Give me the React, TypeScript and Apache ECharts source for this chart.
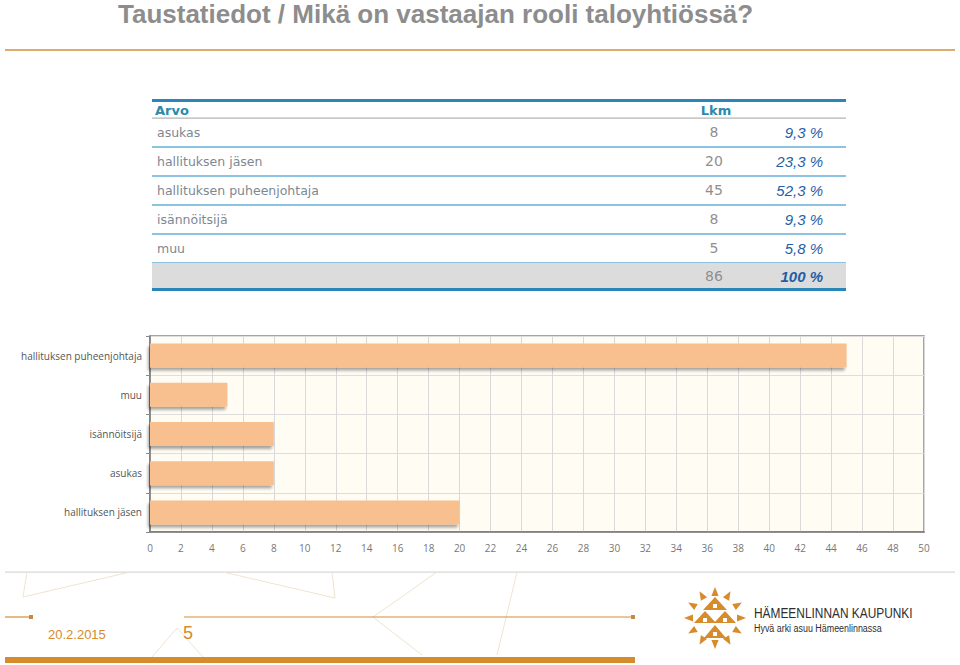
import React, { useEffect, useRef } from "react";
import * as echarts from "echarts";

// Table data (as shown in the table)
const tableCategories = ["asukas", "hallituksen jäsen", "hallituksen puheenjohtaja", "isännöitsijä", "muu"];
const tableCounts = [8, 20, 45, 8, 5];
const tablePercents = ["9,3 %", "23,3 %", "52,3 %", "9,3 %", "5,8 %"];
const totalCount = 86;
const totalPercent = "100 %";

// Bar chart data (top to bottom)
const chartCategories = ["hallituksen puheenjohtaja", "muu", "isännöitsijä", "asukas", "hallituksen jäsen"];
const chartValues = [45, 5, 8, 8, 20];

const titleText = "Taustatiedot / Mikä on vastaajan rooli taloyhtiössä?";
const footerDate = "20.2.2015";
const footerPage = "5";
const logoTitle = "HÄMEENLINNAN KAUPUNKI";
const logoSlogan = "Hyvä arki asuu Hämeenlinnassa";

const ORANGE = "#d68b2c";
const BLUE = "#2a86b8";
const DECO = "#f0e4cf";

function buildGraphic() {
  const els: any[] = [];
  // Title
  els.push({
    type: "text",
    x: 118,
    y: 14,
    style: {
      text: titleText,
      font: 'bold 26px "Liberation Sans Narrow", "Liberation Sans", Arial, sans-serif',
      fill: "#8d8d8d",
      verticalAlign: "middle",
      align: "left",
    },
  });
  // Orange rule under the title
  els.push({ type: "rect", shape: { x: 5, y: 49, width: 950, height: 2 }, style: { fill: "#dcab6e" } });

  // Table
  const tx = 152;
  const tw = 694;
  els.push({ type: "rect", shape: { x: tx, y: 99, width: tw, height: 3 }, style: { fill: BLUE } });
  els.push({
    type: "text", x: 155, y: 110,
    style: { text: "Arvo", font: 'bold 13px "DejaVu Sans", sans-serif', fill: "#2b8aac", verticalAlign: "middle" },
  });
  els.push({
    type: "text", x: 716, y: 110,
    style: { text: "Lkm", font: 'bold 13px "DejaVu Sans", sans-serif', fill: "#2b8aac", verticalAlign: "middle", align: "center" },
  });
  els.push({ type: "rect", shape: { x: tx, y: 117.5, width: tw, height: 1.2 }, style: { fill: "#b4b4b4" } });

  const rowH = 29;
  const firstCenter = 132;
  tableCategories.forEach((cat, i) => {
    const cy = firstCenter + i * rowH;
    els.push({
      type: "text", x: 157, y: cy,
      style: { text: cat, font: '12.5px "DejaVu Sans", sans-serif', fill: "#7d8893", verticalAlign: "middle" },
    });
    els.push({
      type: "text", x: 714, y: cy,
      style: { text: String(tableCounts[i]), font: '14px "DejaVu Sans", sans-serif', fill: "#8f8f8f", verticalAlign: "middle", align: "center" },
    });
    els.push({
      type: "text", x: 823, y: cy,
      style: { text: tablePercents[i], font: 'italic 15px "Liberation Sans", Arial, sans-serif', fill: "#1f5ea8", verticalAlign: "middle", align: "right" },
    });
    els.push({ type: "rect", shape: { x: tx, y: cy + 14, width: tw, height: 2 }, style: { fill: "#8cc3e1" } });
  });
  const totalCy = firstCenter + tableCategories.length * rowH - 1;
  els.push({ type: "rect", shape: { x: tx, y: totalCy - 13, width: tw, height: 25 }, style: { fill: "#dcdcdc" } });
  els.push({
    type: "text", x: 714, y: totalCy,
    style: { text: String(totalCount), font: '14px "DejaVu Sans", sans-serif', fill: "#8f8f8f", verticalAlign: "middle", align: "center" },
  });
  els.push({
    type: "text", x: 823, y: totalCy,
    style: { text: totalPercent, font: 'italic bold 15px "Liberation Sans", Arial, sans-serif', fill: "#1f5ea8", verticalAlign: "middle", align: "right" },
  });
  els.push({ type: "rect", shape: { x: tx, y: totalCy + 12, width: tw, height: 3 }, style: { fill: BLUE } });

  // Footer
  els.push({ type: "rect", shape: { x: 5, y: 571.5, width: 950, height: 1.2 }, style: { fill: "#d8d8d8" } });
  const deco = [
    [[27, 572], [23, 597], [130, 572]],
    [[223, 572], [335, 598], [332, 572]],
    [[437, 572], [373, 617], [422, 655]],
    [[517, 572], [497, 655]],
    [[152, 657], [177, 628], [203, 657]],
  ];
  deco.forEach((pts) => {
    els.push({ type: "polyline", shape: { points: pts }, style: { stroke: DECO, lineWidth: 1, fill: null } });
  });
  els.push({ type: "line", shape: { x1: 5, y1: 617, x2: 31, y2: 617 }, style: { stroke: ORANGE, lineWidth: 1.2 } });
  els.push({ type: "rect", shape: { x: 29, y: 615, width: 4, height: 4 }, style: { fill: "#c48a4a" } });
  els.push({ type: "line", shape: { x1: 184, y1: 617, x2: 633, y2: 617 }, style: { stroke: ORANGE, lineWidth: 1.2 } });
  els.push({ type: "rect", shape: { x: 631, y: 615, width: 4, height: 4 }, style: { fill: "#c48a4a" } });
  els.push({ type: "rect", shape: { x: 5, y: 657, width: 630, height: 6 }, style: { fill: ORANGE } });
  els.push({
    type: "text", x: 48, y: 634,
    style: { text: footerDate, font: '13px "Liberation Sans", Arial, sans-serif', fill: ORANGE, verticalAlign: "middle" },
  });
  els.push({
    type: "text", x: 183, y: 633,
    style: { text: footerPage, font: '18px "Liberation Sans", Arial, sans-serif', fill: ORANGE, verticalAlign: "middle" },
  });

  // Logo: sun of triangles
  const cx = 715;
  const cy = 618;
  for (let k = 0; k < 12; k++) {
    const a = (k * 30 * Math.PI) / 180;
    const ca = Math.cos(a);
    const sa = Math.sin(a);
    const r0 = 22;
    const r1 = 31;
    const hw = 3.6;
    els.push({
      type: "polygon",
      shape: {
        points: [
          [cx + ca * r1, cy + sa * r1],
          [cx + ca * r0 - sa * hw, cy + sa * r0 + ca * hw],
          [cx + ca * r0 + sa * hw, cy + sa * r0 - ca * hw],
        ],
      },
      style: { fill: ORANGE },
    });
  }
  const inner = [
    [[715, 597], [703, 610], [727, 610]],
    [[705, 611], [694, 623], [716, 623]],
    [[725, 611], [714, 623], [736, 623]],
    [[715, 625], [704, 638], [726, 638]],
  ];
  inner.forEach((pts) => els.push({ type: "polygon", shape: { points: pts }, style: { fill: ORANGE } }));
  [[713, 604], [703, 618], [723, 618], [713, 632]].forEach(([x, y]) =>
    els.push({ type: "rect", shape: { x, y, width: 4, height: 4 }, style: { fill: "#ffffff" } })
  );
  els.push({
    type: "text", x: 754, y: 613, scaleX: 0.85,
    style: { text: logoTitle, font: '14px "Liberation Sans Narrow", "Liberation Sans", Arial, sans-serif', fill: "#2e2e2e", verticalAlign: "middle" },
  });
  els.push({
    type: "text", x: 754, y: 628, scaleX: 0.81,
    style: { text: logoSlogan, font: '11px "Liberation Sans Narrow", "Liberation Sans", Arial, sans-serif', fill: "#2e2e2e", verticalAlign: "middle" },
  });
  return els;
}

export default function App() {
  const ref = useRef<HTMLDivElement>(null);
  useEffect(() => {
    document.body.style.margin = "0";
    const chart = echarts.init(ref.current!, null, { renderer: "svg" });
    chart.setOption({
      animation: false,
      backgroundColor: "#ffffff",
      grid: {
        left: 150,
        right: 36,
        top: 336,
        bottom: 133,
        show: true,
        backgroundColor: "#fffcf3",
        borderColor: "#888888",
        borderWidth: 1.5,
      },
      xAxis: {
        type: "value",
        min: 0,
        max: 50,
        interval: 2,
        axisLine: { show: true, lineStyle: { color: "#777777", width: 1.5 } },
        axisTick: { show: false },
        splitLine: { show: true, lineStyle: { color: "#d9d9d9", width: 1 } },
        axisLabel: { color: "#777777", fontSize: 10, fontFamily: '"Open Sans", sans-serif', margin: 11 },
      },
      yAxis: {
        type: "category",
        inverse: true,
        data: chartCategories,
        axisLine: { show: true, lineStyle: { color: "#777777", width: 1.5 } },
        axisTick: { show: true, length: 4, lineStyle: { color: "#888888" } },
        splitLine: { show: true, lineStyle: { color: "#dddddd" } },
        axisLabel: { color: "#555555", fontSize: 10, fontFamily: '"Open Sans", sans-serif', margin: 8 },
      },
      series: [
        {
          type: "bar",
          data: chartValues,
          barWidth: 24,
          itemStyle: {
            color: "#f8c08f",
            shadowColor: "rgba(0,0,0,0.35)",
            shadowBlur: 3,
            shadowOffsetX: -2,
            shadowOffsetY: 3,
          },
        },
      ],
      graphic: buildGraphic(),
    });
    return () => chart.dispose();
  }, []);
  return <div ref={ref} style={{ position: "fixed", left: 0, top: 0, width: 960, height: 665 }} />;
}
